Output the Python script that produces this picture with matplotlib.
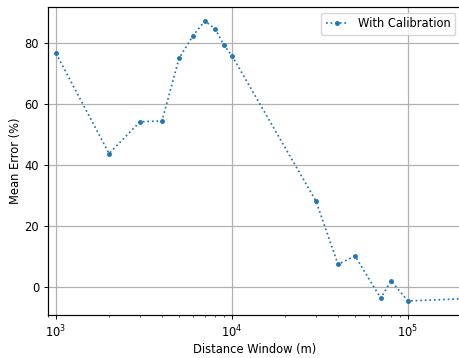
import numpy as np
import matplotlib
matplotlib.use("Agg")
from matplotlib import pyplot as plt

# distance window (m) and mean error (%)
distance = [1000, 2000, 3000, 4000, 5000, 6000, 7000, 8000, 9000, 10000,
            30000, 40000, 50000, 70000, 80000, 100000, 300000]
mean_error = [76.6, 43.8, 54.2, 54.5, 75.0, 82.4, 87.2, 84.7, 79.3, 75.8,
              28.2, 7.5, 10.2, -3.6, 2.1, -4.5, -3.4]

s = 0.83  # reference looks like a downscaled render
plt.rcParams['font.size'] = 10 * s
plt.rcParams['axes.linewidth'] = 0.8 * s + 0.2
plt.rcParams['grid.linewidth'] = 0.8 * s + 0.2
for a in ('xtick', 'ytick'):
    plt.rcParams[a + '.major.size'] = 3.5 * s
    plt.rcParams[a + '.minor.size'] = 2 * s
    plt.rcParams[a + '.major.width'] = 0.8 * s
    plt.rcParams[a + '.minor.width'] = 0.6 * s

fig = plt.figure(figsize=(4.6, 3.58), dpi=100)
ax = fig.add_axes([48/460, 1-315/358, 413/460, 308/358])

ax.plot(distance, mean_error, ':', marker='.', color='C0', lw=1.5 * s,
        ms=6 * s, label='With Calibration')
ax.set_xscale('log')
ax.set_xlim(900, 200000)
ax.set_ylim(-9.1, 91.8)
ax.grid(True)
ax.spines['right'].set_visible(False)

ax.set_xlabel('Distance Window (m)', labelpad=1.5)
ax.set_ylabel('Mean Error (%)', labelpad=1.5)
ax.legend(loc='upper right')

fig.savefig('out.png', dpi=100)
